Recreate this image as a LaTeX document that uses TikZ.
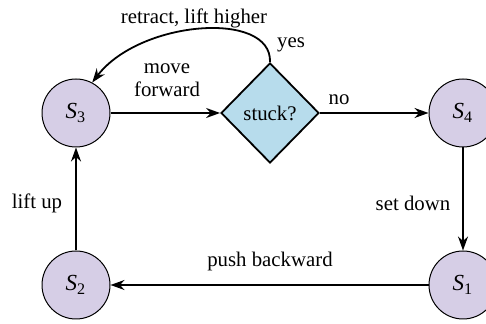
\documentclass[tikz,border=0pt]{standalone}
\usepackage{fontspec}
\setmainfont{Liberation Serif}
\usetikzlibrary{arrows.meta, positioning, shapes.geometric}
\definecolor{statefill}{RGB}{214,206,230}
\definecolor{testfill}{RGB}{183,220,236}
\newcommand{\stname}[1]{$\mathit{S}_{\mathrm{#1}}$}
\begin{document}
\begin{tikzpicture}[x=0.5pt, y=-0.5pt, every node/.style={font=\fontsize{10.4}{12.5}\selectfont},
  state/.style={circle, draw, fill=statefill, minimum size=34pt, inner sep=0pt, line width=0.5pt, font=\fontsize{11.5}{13}\selectfont},
  test/.style={diamond, draw, fill=testfill, minimum width=49pt, minimum height=50pt, inner sep=0pt, line width=0.9pt},
  link/.style={-{Stealth[length=7pt, width=5pt]}, line width=0.9pt}]
\useasboundingbox (0,0) rectangle (486,324);
\node[state] (S3) at (76,113) {\stname{3}};
\node[state] (S4) at (463,113) {\stname{4}};
\node[state] (S1) at (463,285) {\stname{1}};
\node[state] (S2) at (76,285) {\stname{2}};
\node[test] (T) at (270,113) {stuck?};
\draw[link] (S3) -- (T);
\draw[link] (T) -- (S4);
\draw[link] (S4) -- (S1);
\draw[link] (S1) -- (S2);
\draw[link] (S2) -- (S3);
\draw[link] (T.north) .. controls (272,10) and (140,20) .. (S3.62);
\node (retract) at (194,18) {retract, lift higher};
\node (yes) at (291,45) {yes};
\node[align=center] (move) at (167,80) {move\\[-1pt]forward};
\node (no) at (339,100) {no};
\node (setdown) at (413,203) {set down};
\node (liftup) at (37,203) {lift up};
\node (push) at (270,262) {push backward};
\end{tikzpicture}
\end{document}
